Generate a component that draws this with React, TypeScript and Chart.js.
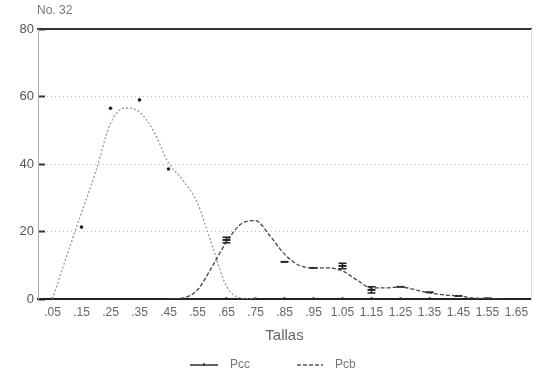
import React, { useEffect, useRef } from "react";
import { Chart, registerables } from "chart.js";

Chart.register(...registerables);

// ---- data ----
const sizeTicks = [0.05, 0.15, 0.25, 0.35, 0.45, 0.55, 0.65, 0.75, 0.85, 0.95, 1.05, 1.15, 1.25, 1.35, 1.45, 1.55, 1.65];
const sizeLabels = [".05", ".15", ".25", ".35", ".45", ".55", ".65", ".75", ".85", ".95", "1.05", "1.15", "1.25", "1.35", "1.45", "1.55", "1.65"];

// Pcc: right-hand mode (observed points with error bars + fitted curve)
const pccPointSizes = [0.65, 0.85, 0.95, 1.05, 1.15, 1.25, 1.35, 1.45, 1.55];
const pccPointValues = [17.5, 11, 9.2, 9.8, 2.7, 3.6, 2.0, 0.9, 0.2];
const pccPointErrors = [0.8, 0, 0, 0.8, 0.9, 0, 0, 0, 0];

const pccCurveSizes = [0.45, 0.5, 0.55, 0.6, 0.65, 0.7, 0.75, 0.8, 0.85, 0.9, 0.95, 1.0, 1.05, 1.1, 1.15, 1.2, 1.25, 1.3, 1.35, 1.4, 1.45, 1.5, 1.55, 1.6];
const pccCurveValues = [0, 0.3, 2.7, 9.5, 16.9, 22.2, 23.2, 18.7, 13.3, 10, 9.2, 9.2, 8.3, 5.6, 3.3, 3.3, 3.6, 2.7, 1.8, 1.2, 0.9, 0.3, 0.1, 0];

// Pcb: left-hand mode (observed points + fitted curve)
const pcbPointSizes = [0.05, 0.15, 0.25, 0.35, 0.45, 0.65, 0.75, 0.85, 0.95, 1.05, 1.15, 1.25, 1.35];
const pcbPointValues = [0, 21.3, 56.5, 59, 38.5, 0, 0, 0, 0, 0, 0, 0, 0];

const pcbCurveSizes = [0.05, 0.1, 0.15, 0.2, 0.25, 0.3, 0.35, 0.4, 0.45, 0.5, 0.55, 0.6, 0.65, 0.7, 0.75];
const pcbCurveValues = [0, 13, 25.5, 38, 52, 56.6, 55.4, 49.5, 40.3, 35.2, 28.4, 16, 3.8, 0.3, 0];

const yMax = 80;
const xMax = 1.7;

const FONT = "'Liberation Sans', Arial, sans-serif";

const zip = (xs: number[], ys: number[]) => xs.map((x, i) => ({ x, y: ys[i] }));

const errorBarPlugin = {
  id: "errorBars",
  afterDatasetsDraw(chart: any) {
    const meta = chart.getDatasetMeta(1);
    const yScale = chart.scales.y;
    const ctx = chart.ctx;
    ctx.save();
    ctx.strokeStyle = "#222";
    ctx.lineWidth = 1.5;
    meta.data.forEach((el: any, i: number) => {
      const err = pccPointErrors[i];
      if (!err) return;
      const v = pccPointValues[i];
      const yTop = yScale.getPixelForValue(v + err);
      const yBot = yScale.getPixelForValue(v - err);
      ctx.beginPath();
      ctx.moveTo(el.x, yTop);
      ctx.lineTo(el.x, yBot);
      ctx.moveTo(el.x - 4, yTop);
      ctx.lineTo(el.x + 4, yTop);
      ctx.moveTo(el.x - 4, yBot);
      ctx.lineTo(el.x + 4, yBot);
      ctx.stroke();
    });
    ctx.restore();
  },
};

const textPlugin = {
  id: "extraText",
  afterDraw(chart: any) {
    const ctx = chart.ctx;
    const area = chart.chartArea;
    ctx.save();
    // corner label
    ctx.fillStyle = "#777";
    ctx.font = `12px ${FONT}`;
    ctx.textAlign = "left";
    ctx.textBaseline = "middle";
    ctx.fillText("No. 32", 37, 11);
    // x title
    ctx.fillStyle = "#666";
    ctx.font = `15px ${FONT}`;
    ctx.textAlign = "center";
    ctx.fillText("Tallas", (area.left + area.right) / 2, 336);
    // legend
    const ly = 365;
    ctx.strokeStyle = "#333";
    ctx.lineWidth = 1.5;
    ctx.setLineDash([]);
    ctx.beginPath();
    ctx.moveTo(190, ly);
    ctx.lineTo(218, ly);
    ctx.moveTo(204, ly - 2);
    ctx.lineTo(204, ly + 1);
    ctx.stroke();
    ctx.strokeStyle = "#555";
    ctx.setLineDash([4, 2]);
    ctx.beginPath();
    ctx.moveTo(297, ly);
    ctx.lineTo(323, ly);
    ctx.stroke();
    ctx.setLineDash([]);
    ctx.fillStyle = "#777";
    ctx.font = `12px ${FONT}`;
    ctx.textAlign = "left";
    ctx.fillText("Pcc", 230, ly);
    ctx.fillText("Pcb", 335, ly);
    ctx.restore();
  },
};

export default function App() {
  const canvasRef = useRef<HTMLCanvasElement | null>(null);

  useEffect(() => {
    if (!canvasRef.current) return;
    const chart = new Chart(canvasRef.current, {
      type: "line",
      data: {
        datasets: [
          {
            label: "Pcc",
            data: zip(pccCurveSizes, pccCurveValues),
            borderColor: "#444",
            borderWidth: 1.3,
            borderDash: [4, 2],
            pointRadius: 0,
            cubicInterpolationMode: "monotone",
            fill: false,
          },
          {
            label: "Pcc points",
            data: zip(pccPointSizes, pccPointValues),
            showLine: false,
            pointStyle: "line",
            pointRadius: 4,
            pointBorderWidth: 2,
            pointBorderColor: "#222",
            pointBackgroundColor: "#222",
          },
          {
            label: "Pcb",
            data: zip(pcbCurveSizes, pcbCurveValues),
            borderColor: "#999",
            borderWidth: 1.3,
            borderDash: [2, 2],
            pointRadius: 0,
            cubicInterpolationMode: "monotone",
            fill: false,
          },
          {
            label: "Pcb points",
            data: zip(pcbPointSizes, pcbPointValues),
            showLine: false,
            pointStyle: "circle",
            pointRadius: 1.8,
            pointBorderWidth: 0,
            pointBackgroundColor: "#222",
          },
        ],
      },
      options: {
        responsive: false,
        animation: false,
        layout: { padding: { left: 0, top: 29, right: 19, bottom: 67 } },
        plugins: { legend: { display: false }, tooltip: { enabled: false }, title: { display: false } },
        scales: {
          x: {
            type: "linear",
            position: "bottom",
            min: 0,
            max: xMax,
            afterBuildTicks: (scale: any) => {
              scale.ticks = sizeTicks.map((v) => ({ value: v }));
            },
            afterFit: (scale: any) => {
              scale.height = 20;
            },
            ticks: {
              autoSkip: false,
              maxRotation: 0,
              padding: 6,
              color: "#666",
              font: { family: FONT, size: 12 },
              callback: (_v: any, i: number) => sizeLabels[i],
            },
            grid: { display: true, drawOnChartArea: false, drawTicks: false },
            border: { display: true, color: "#222", width: 2 },
          },
          x2: {
            type: "linear",
            position: "top",
            min: 0,
            max: xMax,
            display: true,
            afterFit: (scale: any) => {
              scale.height = 0;
            },
            ticks: { display: false },
            grid: { display: false, drawTicks: false },
            border: { display: true, color: "#333", width: 2 },
          },
          y: {
            type: "linear",
            position: "left",
            min: 0,
            max: yMax,
            afterFit: (scale: any) => {
              scale.width = 38;
            },
            ticks: {
              stepSize: 20,
              padding: 11,
              color: "#555",
              font: { family: FONT, size: 13 },
            },
            grid: {
              color: "#bbb",
              lineWidth: 1,
              drawTicks: true,
              tickLength: -7,
              tickColor: "#333",
              tickWidth: 2,
            },
            border: { display: true, color: "#aaa", width: 1, dash: [1, 3] },
          },
          y2: {
            type: "linear",
            position: "right",
            min: 0,
            max: yMax,
            display: true,
            afterFit: (scale: any) => {
              scale.width = 0;
            },
            ticks: { display: false },
            grid: { display: false, drawTicks: false },
            border: { display: true, color: "#ddd", width: 1 },
          },
        },
      } as any,
      plugins: [errorBarPlugin, textPlugin],
    });
    return () => chart.destroy();
  }, []);

  return (
    <div style={{ position: "absolute", left: 0, top: 0, width: 550, height: 386, background: "#fff" }}>
      <canvas ref={canvasRef} width={550} height={386} />
    </div>
  );
}
